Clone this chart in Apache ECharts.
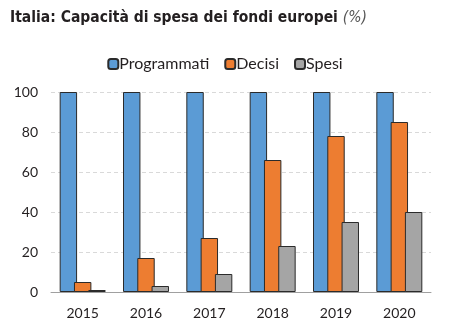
<!DOCTYPE html>
<html><head><meta charset="utf-8">
<script src="https://cdn.jsdelivr.net/npm/echarts@6/dist/echarts.min.js"></script>
<style>html,body{margin:0;padding:0;background:#fff}#c{width:450px;height:334px}</style>
</head><body><div id="c"></div>
<script>
const categories = ['2015','2016','2017','2018','2019','2020'];
const programmati = [100,100,100,100,100,100];
const decisi = [5,17,27,66,78,85];
const spesi = [1,3,9,23,35,40];
const yTicks = [0,20,40,60,80,100];

const chart = echarts.init(document.getElementById('c'));
const font = 'Lato, "Open Sans", sans-serif';
const tfont = '"DejaVu Sans Condensed", "Liberation Sans Narrow", sans-serif';
const barStyle = c => ({color:c, borderColor:'#2b2b2b', borderWidth:1});
chart.setOption({
  animation:false,
  title:{
    text:'Italia: Capacità di spesa dei fondi europei {i|(%)}',
    left:5, top:5,
    textStyle:{fontFamily:tfont, fontWeight:'bold', fontSize:15.5, color:'#231f20',
      rich:{i:{fontFamily:tfont, fontStyle:'italic', fontWeight:'normal', fontSize:15.5, color:'#555'}}}
  },
  legend:{
    top:51, left:'center', itemWidth:10, itemHeight:10, itemGap:15,
    textStyle:{fontFamily:font, fontSize:16, color:'#231f20', padding:[0,0,0,-4]},
    data:['Programmati','Decisi','Spesi']
  },
  grid:{left:51, right:19, top:92, bottom:42},
  xAxis:{
    type:'category', data:categories,
    axisLine:{lineStyle:{color:'#a0a0a0', width:1}},
    axisTick:{show:false},
    axisLabel:{fontFamily:font, fontSize:14, color:'#231f20', margin:14}
  },
  yAxis:{
    type:'value', min:0, max:100, interval:20,
    axisLine:{show:false}, axisTick:{show:false},
    axisLabel:{fontFamily:font, fontSize:14, color:'#231f20', margin:13,
      formatter:v => yTicks.includes(v) ? String(v) : ''},
    splitLine:{lineStyle:{color:'#d9d9d9', type:[4,3], width:1}}
  },
  series:[
    {name:'Programmati', type:'bar', data:programmati, barWidth:'27.5%', barGap:'-18%', itemStyle:barStyle('#5b9bd5')},
    {name:'Decisi', type:'bar', data:decisi, barWidth:'27.5%', barGap:'-18%', itemStyle:barStyle('#ed7d31')},
    {name:'Spesi', type:'bar', data:spesi, barWidth:'27.5%', barGap:'-18%', itemStyle:barStyle('#a5a5a5')}
  ]
});
</script></body></html>
